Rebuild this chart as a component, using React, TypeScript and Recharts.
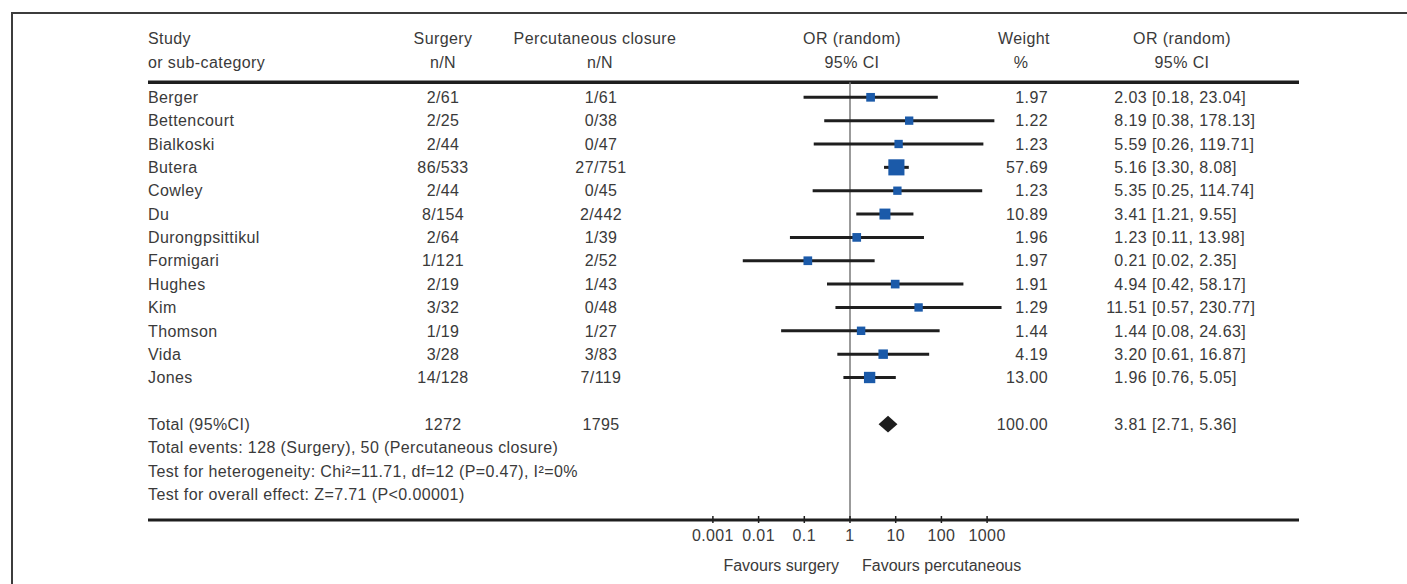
import React from 'react';
import { ComposedChart, XAxis, YAxis, Scatter, ReferenceLine, ReferenceArea } from 'recharts';

// ---------- data ----------
const studies = ['Berger', 'Bettencourt', 'Bialkoski', 'Butera', 'Cowley', 'Du', 'Durongpsittikul', 'Formigari', 'Hughes', 'Kim', 'Thomson', 'Vida', 'Jones'];
const surgeryEvents = [2, 2, 2, 86, 2, 8, 2, 1, 2, 3, 1, 3, 14];
const surgeryTotals = [61, 25, 44, 533, 44, 154, 64, 121, 19, 32, 19, 28, 128];
const percEvents = [1, 0, 0, 27, 0, 2, 1, 2, 1, 0, 1, 3, 7];
const percTotals = [61, 38, 47, 751, 45, 442, 39, 52, 43, 48, 27, 83, 119];
const weights = [1.97, 1.22, 1.23, 57.69, 1.23, 10.89, 1.96, 1.97, 1.91, 1.29, 1.44, 4.19, 13.0];
const oddsRatios = [2.03, 8.19, 5.59, 5.16, 5.35, 3.41, 1.23, 0.21, 4.94, 11.51, 1.44, 3.2, 1.96];
const ciLower = [0.18, 0.38, 0.26, 3.3, 0.25, 1.21, 0.11, 0.02, 0.42, 0.57, 0.08, 0.61, 0.76];
const ciUpper = [23.04, 178.13, 119.71, 8.08, 114.74, 9.55, 13.98, 2.35, 58.17, 230.77, 24.63, 16.87, 5.05];

const totalLabel = 'Total (95%CI)';
const totalSurgery = 1272;
const totalPerc = 1795;
const totalWeight = 100.0;
const totalOR = 3.81;
const totalLower = 2.71;
const totalUpper = 5.36;

const xTicks = [0.001, 0.01, 0.1, 1, 10, 100, 1000];
const headerLine1 = ['Study', 'Surgery', 'Percutaneous closure', 'OR (random)', 'Weight', 'OR (random)'];
const headerLine2 = ['or sub-category', 'n/N', 'n/N', '95% CI', '%', '95% CI'];
const footnotes = [
  'Total events: 128 (Surgery), 50 (Percutaneous closure)',
  'Test for heterogeneity: Chi\u00B2=11.71, df=12 (P=0.47), I\u00B2=0%',
  'Test for overall effect: Z=7.71 (P<0.00001)',
];
const favoursLabels = ['Favours surgery', 'Favours percutaneous'];

// ---------- layout ----------
const W = 1399;
const H = 576;
const FONT = '"Liberation Sans", Arial, sans-serif';
const TEXT = '#3a3a3a';
const INK = '#1e1e1e';

// plot area in svg coords
const PL = 140;
const PR = 1291;
const PT = 12;
const PB = 512;

// log scales (svg x of value 1, px per decade)
const DATA_ONE = 843;
const DATA_PPD = 63.7;
const TICK_ONE = 842;
const TICK_PPD = 45.7;
const dataDomain = [Math.pow(10, (PL - DATA_ONE) / DATA_PPD), Math.pow(10, (PR - DATA_ONE) / DATA_PPD)];
const tickDomain = [Math.pow(10, (PL - TICK_ONE) / TICK_PPD), Math.pow(10, (PR - TICK_ONE) / TICK_PPD)];

// rows
const ROW0 = 89.3;
const ROW_H = 23.35;
const yDomain = [(PT - ROW0) / ROW_H, (PB - ROW0) / ROW_H];
const H1 = -2.54;
const H2 = -1.49;
const RULE_ROW = -0.64;
const TOTAL_ROW = 14;
const FOOT_ROWS = [15, 16, 17];
const rowTicks = [H1, H2, ...studies.map((_, i) => i), TOTAL_ROW, ...FOOT_ROWS];

const points = studies.map((name, i) => ({ x: oddsRatios[i], y: i, w: weights[i], name }));
const tickRows = xTicks.map((t) => ({ t }));

const T = ({ x, y, anchor = 'start', spacing = 0.4, children }: any) => (
  <text x={x} y={y} textAnchor={anchor} fontFamily={FONT} fontSize={16} letterSpacing={spacing} fill={TEXT}>
    {children}
  </text>
);

const near = (a: number, b: number) => Math.abs(a - b) < 0.01;

const RowTick = (props: any) => {
  const { y, payload } = props;
  const v = payload.value as number;
  const ty = y + 5.7;
  if (near(v, H1) || near(v, H2)) {
    const first = near(v, H1);
    const h = first ? headerLine1 : headerLine2;
    return (
      <g>
        <T x={140} y={ty}>{h[0]}</T>
        <T x={435} y={ty} anchor="middle">{h[1]}</T>
        <T x={first ? 587 : 592} y={ty} anchor="middle">{h[2]}</T>
        <T x={844} y={ty} anchor="middle">{h[3]}</T>
        <T x={first ? 1016 : 1013} y={ty} anchor="middle">{h[4]}</T>
        <T x={1174} y={ty} anchor="middle">{h[5]}</T>
      </g>
    );
  }
  if (near(v, TOTAL_ROW)) {
    return (
      <g>
        <T x={140} y={ty}>{totalLabel}</T>
        <T x={435} y={ty} anchor="middle">{totalSurgery}</T>
        <T x={593} y={ty} anchor="middle">{totalPerc}</T>
        <T x={1040} y={ty} anchor="end">{totalWeight.toFixed(2)}</T>
        <T x={1139} y={ty} anchor="end">{totalOR.toFixed(2)}</T>
        <T x={1144} y={ty}>{`[${totalLower.toFixed(2)}, ${totalUpper.toFixed(2)}]`}</T>
      </g>
    );
  }
  const fi = FOOT_ROWS.findIndex((r) => near(r, v));
  if (fi >= 0) {
    return <T x={140} y={ty}>{footnotes[fi]}</T>;
  }
  const i = Math.round(v);
  if (i < 0 || i >= studies.length) return <g />;
  return (
    <g>
      <T x={140} y={ty}>{studies[i]}</T>
      <T x={435} y={ty} anchor="middle">{`${surgeryEvents[i]}/${surgeryTotals[i]}`}</T>
      <T x={593} y={ty} anchor="middle">{`${percEvents[i]}/${percTotals[i]}`}</T>
      <T x={1040} y={ty} anchor="end">{weights[i].toFixed(2)}</T>
      <T x={1139} y={ty} anchor="end">{oddsRatios[i].toFixed(2)}</T>
      <T x={1144} y={ty}>{`[${ciLower[i].toFixed(2)}, ${ciUpper[i].toFixed(2)}]`}</T>
    </g>
  );
};

const AxisTick = (props: any) => {
  const { x, y, payload } = props;
  const v = payload.value as number;
  return (
    <g>
      <line x1={x} x2={x} y1={y - 4} y2={y + 3} stroke={INK} strokeWidth={1.5} />
      <T x={x} y={y + 15 + 5.7} anchor="middle">{String(v)}</T>
      {v === 1 ? (
        <g>
          <T x={x - 11} y={y + 45 + 5.7} anchor="end" spacing={0}>{favoursLabels[0]}</T>
          <T x={x + 12} y={y + 45 + 5.7} spacing={0}>{favoursLabels[1]}</T>
        </g>
      ) : null}
    </g>
  );
};

const Square = (props: any) => {
  const { cx, cy, payload } = props;
  const s = 7 + 1.2 * Math.sqrt(payload.w);
  return <rect x={cx - s / 2} y={cy - s / 2} width={s} height={s} fill="#1b5aa9" />;
};

const Diamond = (props: any) => {
  const { x, y, width, height } = props;
  const pts = [
    [x, y + height / 2],
    [x + width / 2, y],
    [x + width, y + height / 2],
    [x + width / 2, y + height],
  ]
    .map((p) => p.join(','))
    .join(' ');
  return <polygon points={pts} fill={INK} />;
};

export default function App() {
  return (
    <div style={{ position: 'absolute', width: W, height: H, overflow: 'hidden', background: '#fff', fontFamily: FONT }}>
      <div
        style={{
          position: 'absolute',
          left: 3,
          top: 4,
          width: 2000,
          height: 2000,
          borderTop: '2.5px solid #3c3c3c',
          borderLeft: '2.5px solid #3c3c3c',
        }}
      />
      <div style={{ position: 'absolute', left: 0, top: 0 }}>
        <ComposedChart width={W} height={H} data={tickRows} margin={{ top: PT, left: PL - 1, right: W - PR, bottom: 0 }}>
          <XAxis
            xAxisId="data"
            dataKey="x"
            type="number"
            scale="log"
            domain={dataDomain}
            allowDataOverflow
            orientation="top"
            height={0}
            hide
          />
          <XAxis
            xAxisId="tick"
            dataKey="t"
            type="number"
            scale="log"
            domain={tickDomain}
            allowDataOverflow
            ticks={xTicks}
            interval={0}
            height={H - PB}
            tickSize={0}
            tickMargin={0}
            tickLine={false}
            axisLine={{ stroke: INK, strokeWidth: 3 }}
            tick={<AxisTick />}
          />
          <YAxis
            dataKey="y"
            type="number"
            domain={yDomain}
            allowDataOverflow
            reversed
            width={1}
            ticks={rowTicks}
            interval={0}
            axisLine={false}
            tickLine={false}
            tick={<RowTick />}
          />
          <ReferenceLine xAxisId="data" y={RULE_ROW} stroke={INK} strokeWidth={3.5} ifOverflow="visible" />
          <ReferenceLine
            xAxisId="tick"
            segment={[{ x: 1, y: RULE_ROW }, { x: 1, y: yDomain[1] }]}
            stroke="#7a7a7a"
            strokeWidth={1.5}
            ifOverflow="visible"
          />
          {studies.map((name, i) => (
            <ReferenceLine
              key={name}
              xAxisId="data"
              segment={[{ x: ciLower[i], y: i }, { x: ciUpper[i], y: i }]}
              stroke={INK}
              strokeWidth={3}
              ifOverflow="visible"
            />
          ))}
          <ReferenceArea
            xAxisId="data"
            x1={totalLower}
            x2={totalUpper}
            y1={TOTAL_ROW - 0.36}
            y2={TOTAL_ROW + 0.36}
            ifOverflow="visible"
            shape={Diamond}
          />
          <Scatter xAxisId="data" data={points} shape={Square} isAnimationActive={false} />
        </ComposedChart>
      </div>
    </div>
  );
}
